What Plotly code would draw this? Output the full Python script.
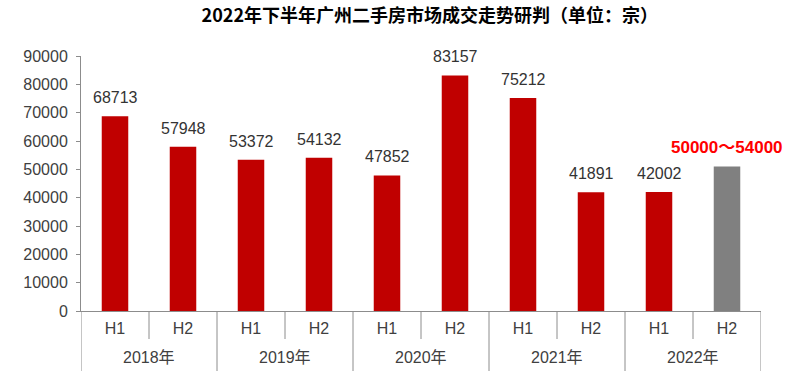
import plotly.graph_objects as go

years = ["2018年", "2018年", "2019年", "2019年", "2020年", "2020年", "2021年", "2021年", "2022年", "2022年"]
halves = ["H1", "H2", "H1", "H2", "H1", "H2", "H1", "H2", "H1", "H2"]
values = [68713, 57948, 53372, 54132, 47852, 83157, 75212, 41891, 42002, 51000]
labels = ["68713", "57948", "53372", "54132", "47852", "83157", "75212", "41891", "42002", "<b>50000～54000</b>"]
colors = ["#C00000"] * 9 + ["#808080"]
label_colors = ["#333333"] * 9 + ["#FF0000"]
label_sizes = [16] * 9 + [17]

font_family = "Liberation Sans, Arial, Noto Sans CJK SC, sans-serif"
axis_color = "#8c8c8c"
plot_h = 383 - 56 - 72  # plot area height in px (for pixel-to-paper conversion)

cats = [y + h for y, h in zip(years, halves)]
idx = list(range(len(cats)))

fig = go.Figure(go.Bar(
    x=cats,
    y=values,
    marker=dict(color=colors, line=dict(width=0)),
    cliponaxis=False,
    hoverinfo="skip",
))

# value labels
for i, (c, v, t, col, sz) in enumerate(zip(cats, values, labels, label_colors, label_sizes)):
    fig.add_annotation(x=c, y=v, text=t, showarrow=False, yanchor="bottom", yshift=8,
                       font=dict(color=col, size=sz, family=font_family))

# dividers between categories (short within year, long between years)
short_px, long_px = 28, 60
for b in range(len(cats) + 1):
    pos = b - 0.5
    is_long = b == 0 or b == len(cats) or years[b] != years[b - 1]
    ln = long_px if is_long else short_px
    fig.add_shape(type="line", xref="x", yref="paper", x0=pos, x1=pos, y0=0, y1=-ln / plot_h,
                  line=dict(color=axis_color, width=1))

# year labels
seen = []
for y in years:
    if y not in seen:
        seen.append(y)
for y in seen:
    members = [i for i in idx if years[i] == y]
    fig.add_annotation(x=sum(members) / len(members), xref="x", y=-46 / plot_h, yref="paper",
                       text=y, showarrow=False, yanchor="middle",
                       font=dict(size=16, color="#404040", family=font_family))

fig.update_layout(
    width=796, height=383,
    margin=dict(l=81, r=35, t=56, b=72, autoexpand=False),
    paper_bgcolor="white", plot_bgcolor="white",
    bargap=0.61,
    showlegend=False,
    font=dict(family=font_family, size=16, color="#404040"),
    title=dict(
        text="<b>2022年下半年广州二手房市场成交走势研判（单位：宗）</b>",
        x=0.54, xanchor="center", y=0.958, yanchor="middle",
        font=dict(size=18, color="#000000", family="Noto Sans CJK SC, sans-serif"),
    ),
    yaxis=dict(
        range=[0, 90000], dtick=10000, showgrid=False, zeroline=False,
        showline=True, linecolor=axis_color, linewidth=1,
        ticks="outside", ticklen=4, tickcolor=axis_color,
        tickfont=dict(size=16, color="#404040"),
        tickformat="d", automargin=False, ticklabelstandoff=5,
    ),
    xaxis=dict(
        type="category", range=[-0.5, len(cats) - 0.5], showgrid=False, zeroline=False,
        showline=True, linecolor=axis_color, linewidth=1,
        ticks="", tickvals=cats, ticktext=halves,
        tickfont=dict(size=16, color="#404040"),
        automargin=False, ticklabelstandoff=3,
    ),
)

fig.write_html("out.html", config={"displayModeBar": False},
               post_script="document.body.style.margin='0px';document.body.style.overflow='hidden';")
